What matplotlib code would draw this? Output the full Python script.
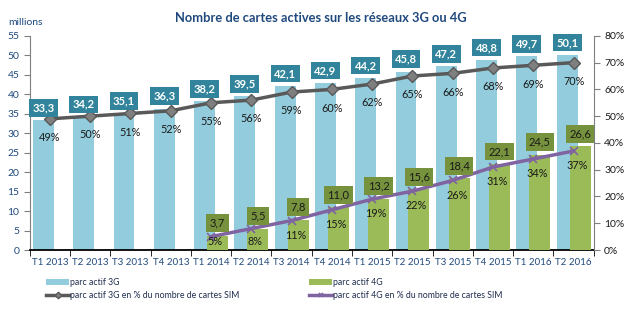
import matplotlib.pyplot as plt
import numpy as np

# trimestres
periodes = ['T1 2013', 'T2 2013', 'T3 2013', 'T4 2013', 'T1 2014', 'T2 2014',
            'T3 2014', 'T4 2014', 'T1 2015', 'T2 2015', 'T3 2015', 'T4 2015',
            'T1 2016', 'T2 2016']
# parc actif 3G (millions)
parc_3g = [33.3, 34.2, 35.1, 36.3, 38.2, 39.5, 42.1, 42.9, 44.2, 45.8, 47.2,
           48.8, 49.7, 50.1]
# parc actif 4G (millions), a partir de T1 2014
parc_4g = [3.7, 5.5, 7.8, 11.0, 13.2, 15.6, 18.4, 22.1, 24.5, 26.6]
# % du nombre de cartes SIM
pct_3g = [49, 50, 51, 52, 55, 56, 59, 60, 62, 65, 66, 68, 69, 70]
pct_4g = [5, 8, 11, 15, 19, 22, 26, 31, 34, 37]

plt.rcParams['font.family'] = ['Lato', 'DejaVu Sans']

bleu_txt = '#1F497D'
x = np.arange(len(periodes))
x4 = x[len(periodes) - len(parc_4g):]

fig = plt.figure(figsize=(6.33, 3.23), dpi=100)
ax = fig.add_axes([0.047, 0.226, 0.891, 0.663])
ax2 = ax.twinx()

larg = 0.52
dec = 0.16
ax.bar(x - dec, parc_3g, larg, color='#93CDDD', label='parc actif 3G', zorder=2)
ax.bar(x4 + dec, parc_4g, larg, color='#9BBB59', label='parc actif 4G', zorder=3)

l3, = ax2.plot(x, pct_3g, color='#595959', lw=2.5, marker='D', ms=6,
               mfc='#7F7F7F', mec='#595959', zorder=4,
               label='parc actif 3G en % du nombre de cartes SIM')
l4, = ax2.plot(x4, pct_4g, color='#8064A2', lw=2.5, marker='x', ms=6,
               mew=1.2, zorder=4,
               label='parc actif 4G en % du nombre de cartes SIM')

# etiquettes des barres (posees sur ax2 pour rester au-dessus des courbes)
for xi, v in zip(x, parc_3g):
    ax2.annotate(('%.1f' % v).replace('.', ','), (xi - dec, v),
                 xycoords=ax.transData, xytext=(0, 9),
                 textcoords='offset points', ha='center', va='center',
                 fontsize=8, fontweight='bold', color='white', zorder=10,
                 bbox=dict(boxstyle='square,pad=0.3', fc='#31849B', ec='none'))
for xi, v in zip(x4, parc_4g):
    ax2.annotate(('%.1f' % v).replace('.', ','), (xi + dec, v),
                 xycoords=ax.transData, xytext=(0, 9),
                 textcoords='offset points', ha='center', va='center',
                 fontsize=8, color='#1a1a1a', zorder=10,
                 bbox=dict(boxstyle='square,pad=0.3', fc='#76923C', ec='none'))

for xi, p in zip(x, pct_3g):
    ax2.text(xi, p - 7, '%d%%' % p, ha='center', va='center', fontsize=7.8,
             color='#1a1a1a', zorder=6)
for xi, p in zip(x4, pct_4g):
    ax2.text(xi + 0.1, max(p - 5.5, 3), '%d%%' % p, ha='center', va='center',
             fontsize=7.8, color='#1a1a1a', zorder=6)

ax.set_xlim(-0.5, len(periodes) - 0.5)
ax.set_ylim(0, 55)
ax.set_yticks(np.arange(0, 56, 5))
ax2.set_ylim(0, 80)
ax2.set_yticks(np.arange(0, 81, 10))
ax2.set_yticklabels(['%d%%' % t for t in range(0, 81, 10)])

ax.set_xticks(x)
ax.set_xticklabels(periodes)
ax.set_xticks(np.arange(-0.5, len(periodes), 1), minor=True)
ax.tick_params(axis='x', which='major', length=0, labelsize=7,
               labelcolor=bleu_txt, pad=6)
ax.tick_params(axis='x', which='minor', length=4, direction='out', color='#000000')
ax.tick_params(axis='y', labelsize=7.5, labelcolor=bleu_txt, length=4,
               color='#7F7F7F')
ax2.tick_params(axis='y', labelsize=7.5, labelcolor='#1a1a1a', length=4,
                color='#7F7F7F')

for a in (ax, ax2):
    a.spines['top'].set_visible(False)
ax.spines['right'].set_visible(False)
ax2.spines['left'].set_visible(False)
ax2.spines['bottom'].set_visible(False)
ax.spines['left'].set_color('#7F7F7F')
ax2.spines['right'].set_color('#7F7F7F')
ax.spines['bottom'].set_linewidth(1.3)

fig.text(0.507, 0.945, 'Nombre de cartes actives sur les réseaux 3G ou 4G',
         ha='center', va='center', fontsize=9.3, fontweight='bold',
         color=bleu_txt)
fig.text(0.013, 0.93, 'millions', ha='left', va='center', fontsize=7.5,
         color=bleu_txt)

h1, lab1 = ax.get_legend_handles_labels()
handles = [h1[0], l3, h1[1], l4]
leg = fig.legend(handles, [h.get_label() for h in handles], ncol=2,
                 loc='upper left', bbox_to_anchor=(0.073, 0.138),
                 frameon=False, fontsize=6.3, handlelength=2.6,
                 handletextpad=0.1, columnspacing=8.0, labelspacing=0.45,
                 borderpad=0, borderaxespad=0, markerscale=0.55)
for t in leg.get_texts():
    t.set_color('#1F2D4D')

fig.savefig('out.png', dpi=100)
